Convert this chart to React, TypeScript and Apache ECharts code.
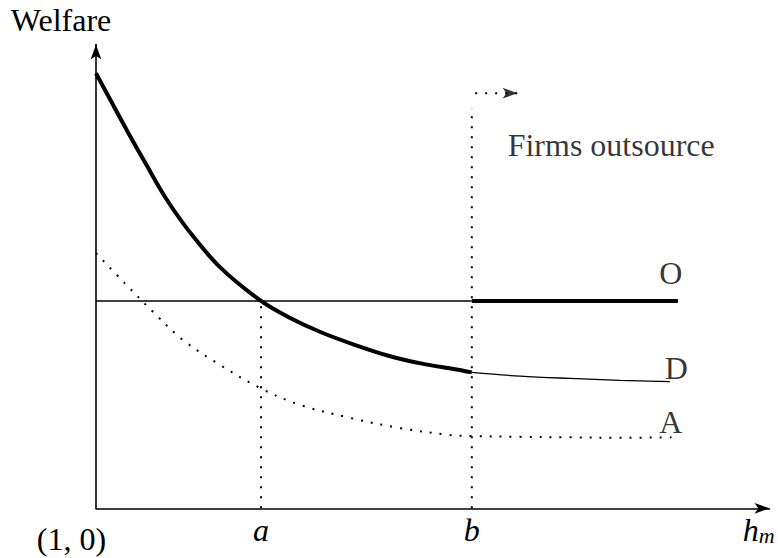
import { useEffect, useRef } from 'react';
import * as echarts from 'echarts';

// Axis domains (arbitrary units)
const X_MIN = 0;
const X_MAX = 10;
const Y_MIN = 0;
const Y_MAX = 10;

// Thresholds on h_m
const A_POS = 2.45;
const B_POS = 5.58;

// Line O (outsourcing): flat level
const O_LEVEL = 4.47;
const O_END = 8.64;

// Curve D (domestic): thick part up to b, thin part after b
const dBeforeB: number[][] = [
  [0, 9.38], [0.2, 8.84], [0.47, 8.12], [0.75, 7.4], [1.04, 6.68], [1.39, 5.96],
  [1.84, 5.2], [2.45, 4.47], [2.86, 4.12], [3.35, 3.79], [3.85, 3.52], [4.34, 3.29],
  [4.84, 3.12], [5.33, 3.0], [5.58, 2.93],
];
const dAfterB: number[][] = [
  [5.58, 2.93], [6.3, 2.85], [7.04, 2.8], [7.78, 2.76], [8.52, 2.73],
];

// Curve A (dotted)
const aCurve: number[][] = [
  [0, 5.5], [0.43, 4.85], [0.85, 4.23], [1.29, 3.63], [1.8, 3.13], [2.44, 2.59],
  [3.03, 2.23], [3.77, 1.95], [4.51, 1.73], [5.26, 1.58], [5.58, 1.56],
  [6.3, 1.54], [7.04, 1.53], [7.78, 1.52], [8.57, 1.53],
];

// Top of the dotted vertical line at b, and the dotted arrow
const B_LINE_TOP = 8.63;
const arrowPath: number[][] = [[5.63, 8.95], [6.26, 8.95]];

// Text annotation
const NOTE_TEXT = 'Firms outsource';
const NOTE_POS = [7.65, 7.83];

// X tick labels
const xTickValues = [0, A_POS, B_POS, 9.84];
const xTickLabels = ['(1, 0)', 'a', 'b', 'h_m'];

const FONT = 'Liberation Serif';
const DOT: number[] = [2, 8];

export default function App() {
  const ref = useRef<HTMLDivElement>(null);

  useEffect(() => {
    const chart = echarts.init(ref.current!, null, { renderer: 'svg' });
    const dEnd = dAfterB[dAfterB.length - 1];
    const aEnd = aCurve[aCurve.length - 1];
    const option: any = {
      animation: false,
      backgroundColor: '#fff',
      grid: { left: 96, right: 8.5, top: 44.5, bottom: 49.7, outerBoundsMode: 'none' },
      xAxis: {
        type: 'value',
        min: X_MIN,
        max: X_MAX,
        splitLine: { show: false },
        axisTick: { show: false },
        axisLine: {
          show: true,
          onZero: true,
          symbol: ['none', 'arrow'],
          symbolSize: [8, 15],
          lineStyle: { color: '#000', width: 1.6 },
        },
        axisLabel: {
          customValues: xTickValues,
          showMinLabel: true,
          showMaxLabel: true,
          margin: 6,
          color: '#000',
          fontFamily: FONT,
          fontSize: 32,
          formatter: (v: number) => {
            const i = xTickValues.findIndex((t) => Math.abs(t - v) < 1e-6);
            if (i < 0) return '';
            const lab = xTickLabels[i];
            if (i === 0) return '{o|' + lab + '}';
            if (lab === 'h_m') return '{h|h}{m|m}';
            return '{i|' + lab + '}';
          },
          rich: {
            o: { fontFamily: FONT, fontSize: 32, color: '#000', padding: [9, 49, 0, 0] },
            i: { fontFamily: FONT, fontSize: 32, fontStyle: 'italic', color: '#000' },
            h: { fontFamily: FONT, fontSize: 32, fontStyle: 'italic', color: '#000', lineHeight: 32 },
            m: { fontFamily: FONT, fontSize: 22, fontStyle: 'italic', color: '#000', lineHeight: 22, verticalAlign: 'bottom' },
          },
        },
      },
      yAxis: {
        type: 'value',
        min: Y_MIN,
        max: Y_MAX,
        splitLine: { show: false },
        axisTick: { show: false },
        axisLabel: { show: false },
        axisLine: {
          show: true,
          symbol: ['none', 'arrow'],
          symbolSize: [8, 15],
          lineStyle: { color: '#000', width: 1.6 },
        },
        name: 'Welfare',
        nameLocation: 'end',
        nameGap: 8.5,
        nameTextStyle: {
          color: '#000',
          fontFamily: FONT,
          fontSize: 32,
          padding: [0, 70, 0, 0],
        },
      },
      series: [
        {
          name: 'D thick',
          type: 'line',
          data: dBeforeB,
          smooth: 0.35,
          symbol: 'none',
          lineStyle: { color: '#000', width: 4 },
        },
        {
          name: 'D thin',
          type: 'line',
          data: dAfterB,
          smooth: 0.35,
          symbol: 'none',
          lineStyle: { color: '#000', width: 1.3 },
        },
        {
          name: 'O thin',
          type: 'line',
          data: [[X_MIN, O_LEVEL], [B_POS, O_LEVEL]],
          symbol: 'none',
          lineStyle: { color: '#000', width: 1.3 },
        },
        {
          name: 'O thick',
          type: 'line',
          data: [[B_POS, O_LEVEL], [O_END, O_LEVEL]],
          symbol: 'none',
          lineStyle: { color: '#000', width: 4 },
        },
        {
          name: 'A',
          type: 'line',
          data: aCurve,
          smooth: 0.35,
          symbol: 'none',
          lineStyle: { color: '#000', width: 2, type: DOT },
        },
        {
          name: 'a line',
          type: 'line',
          data: [[A_POS, Y_MIN], [A_POS, O_LEVEL]],
          symbol: 'none',
          lineStyle: { color: '#000', width: 2, type: DOT },
        },
        {
          name: 'b line',
          type: 'line',
          data: [[B_POS, Y_MIN], [B_POS, B_LINE_TOP]],
          symbol: 'none',
          lineStyle: { color: '#000', width: 2, type: DOT },
        },
        {
          name: 'arrow shaft',
          type: 'line',
          data: arrowPath,
          symbol: 'none',
          lineStyle: { color: '#000', width: 2, type: DOT },
        },
        {
          name: 'arrow head',
          type: 'scatter',
          data: [arrowPath[arrowPath.length - 1]],
          symbol: 'arrow',
          symbolRotate: -90,
          symbolSize: [8, 15],
          itemStyle: { color: '#000' },
        },
        {
          name: 'labels',
          type: 'scatter',
          symbolSize: 1,
          itemStyle: { color: 'rgba(0,0,0,0)' },
          label: {
            show: true,
            position: 'inside',
            color: '#000',
            fontFamily: FONT,
            fontSize: 32,
            align: 'center',
            verticalAlign: 'middle',
          },
          data: [
            { value: [O_END, O_LEVEL], label: { formatter: 'O', offset: [-7, -27.5] } },
            { value: dEnd, label: { formatter: 'D', offset: [6.5, -14] } },
            { value: aEnd, label: { formatter: 'A', offset: [-2.5, -15] } },
            { value: NOTE_POS, label: { formatter: NOTE_TEXT } },
          ],
        },
      ],
    };
    chart.setOption(option);
    return () => chart.dispose();
  }, []);

  return (
    <div
      ref={ref}
      style={{ position: 'fixed', left: 0, top: 0, width: 778, height: 558, background: '#fff' }}
    />
  );
}
